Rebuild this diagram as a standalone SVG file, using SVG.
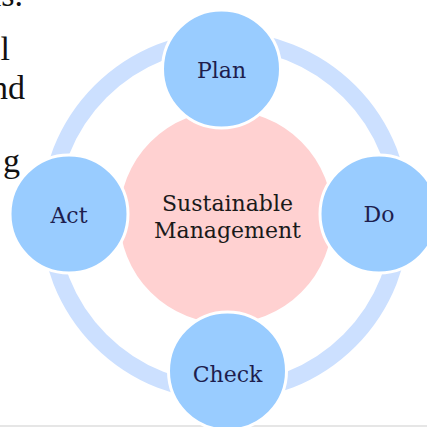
<svg xmlns="http://www.w3.org/2000/svg" width="427" height="427" viewBox="0 0 427 427">
<style>
.bg-text{font-family:"Liberation Serif","Times New Roman",serif;font-size:34px;fill:#111111;text-anchor:end}
.node circle{fill:#99CCFF;stroke:#FFFFFF;stroke-width:3}
.lbl{font-family:"DejaVu Serif","Liberation Serif",serif;font-size:22px;fill:#1E1E4E;text-anchor:middle}
.center-lbl{font-family:"DejaVu Serif","Liberation Serif",serif;font-size:22px;fill:#1A1A1A;text-anchor:middle}
</style>
<rect x="0" y="0" width="427" height="427" fill="#FFFFFF"/>
<g id="page-text">
<text class="bg-text" x="23" y="6">ns.</text>
<text class="bg-text" x="10" y="60">l</text>
<text class="bg-text" x="25" y="99">nd</text>
<text class="bg-text" x="20" y="172">g</text>
</g>
<line x1="0" y1="426" x2="427" y2="426" stroke="#E6E6E6" stroke-width="2"/>
<g id="connectors">
<circle cx="225" cy="216" r="176" fill="none" stroke="#CCE0FF" stroke-width="17"/>
</g>
<g id="center">
<circle cx="226" cy="217" r="108" fill="#FFD1D1" stroke="#FFFFFF" stroke-width="3"/>
<text class="center-lbl" x="227.5" y="211">Sustainable</text>
<text class="center-lbl" x="227.5" y="238">Management</text>
</g>
<g id="plan" class="node">
<circle cx="221.5" cy="69" r="59"/>
<text class="lbl" x="221.5" y="78">Plan</text>
</g>
<g id="do" class="node">
<circle cx="379" cy="214" r="59"/>
<text class="lbl" x="379" y="222">Do</text>
</g>
<g id="check" class="node">
<circle cx="227.5" cy="371" r="59"/>
<text class="lbl" x="227.5" y="381.5">Check</text>
</g>
<g id="act" class="node">
<circle cx="69" cy="214" r="59"/>
<text class="lbl" x="69" y="222.5">Act</text>
</g>
</svg>
